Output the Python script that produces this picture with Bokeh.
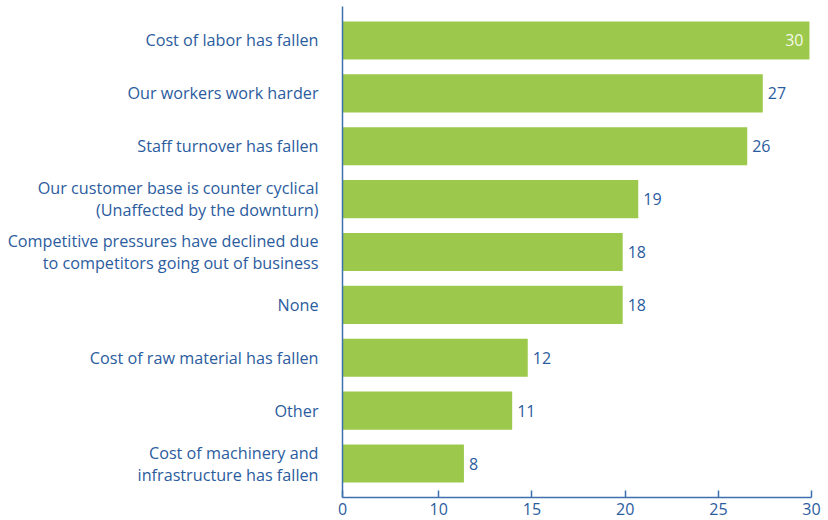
from bokeh.plotting import figure
from bokeh.models import Range1d, FixedTicker, ColumnDataSource
from bokeh.core.properties import value
from bokeh.embed import file_html
from bokeh.resources import INLINE

categories = [
    "Cost of labor has fallen",
    "Our workers work harder",
    "Staff turnover has fallen",
    "Our customer base is counter cyclical\n(Unaffected by the downturn)",
    "Competitive pressures have declined due\nto competitors going out of business",
    "None",
    "Cost of raw material has fallen",
    "Other",
    "Cost of machinery and\ninfrastructure has fallen",
]
values = [30, 27, 26, 19, 18, 18, 11.9, 10.9, 7.8]
value_labels = ["30", "27", "26", "19", "18", "18", "12", "11", "8"]
x_tick_labels = ["0", "10", "15", "20", "25", "30"]

FONT = "Open Sans"
BLUE = "#2b5c9e"
AXIS = "#3f6fad"
GREEN = "#9cc94b"

n = len(categories)
ypos = [n - 1 - i for i in range(n)]

x_end = 30.13
p = figure(width=828, height=520, output_backend="svg", toolbar_location=None,
           x_range=Range1d(0, x_end), y_range=Range1d(-0.643, n - 1 + 0.643),
           min_border_left=342, min_border_right=17, min_border_top=6, min_border_bottom=23)
p.outline_line_color = None
p.xgrid.visible = False
p.ygrid.visible = False
p.background_fill_color = "white"

src = ColumnDataSource(dict(y=ypos, v=values, lab=value_labels))
p.hbar(y="y", left=0, right="v", height=0.72, source=src, fill_color=GREEN, line_color=None)

big = [i for i in range(n) if values[i] >= 29]
small = [i for i in range(n) if values[i] < 29]
inside = ColumnDataSource(dict(y=[ypos[i] for i in big], v=[values[i] for i in big],
                               lab=[value_labels[i] for i in big]))
outside = ColumnDataSource(dict(y=[ypos[i] for i in small], v=[values[i] for i in small],
                                lab=[value_labels[i] for i in small]))
p.text(x="v", y="y", text="lab", source=outside, x_offset=5, text_align="left",
       text_baseline="middle", text_color=BLUE, text_font=value(FONT), text_font_size="16px")
p.text(x="v", y="y", text="lab", source=inside, x_offset=-6, text_align="right",
       text_baseline="middle", text_color="#f3f8ea", text_font=value(FONT), text_font_size="16px")

# y axis (categories)
p.yaxis.ticker = FixedTicker(ticks=ypos)
p.yaxis.major_label_overrides = {ypos[i]: categories[i] for i in range(n)}
p.yaxis.major_tick_line_color = None
p.yaxis.minor_tick_line_color = None
p.yaxis.axis_line_color = AXIS
p.yaxis.axis_line_width = 1.5
p.yaxis.major_label_standoff = 18
p.yaxis.major_label_text_color = BLUE
p.yaxis.major_label_text_font = FONT
p.yaxis.major_label_text_font_size = "16.2px"
p.yaxis.major_label_text_line_height = 1.0

# x axis
xt = [0, 6.18, 12.17, 18.16, 24.15, 30.13]
p.xaxis.ticker = FixedTicker(ticks=xt)
p.xaxis.major_label_overrides = {xt[i]: x_tick_labels[i] for i in range(len(xt))}
p.xaxis.minor_tick_line_color = None
p.xaxis.major_tick_in = 7
p.xaxis.major_tick_out = 0
p.xaxis.major_tick_line_color = AXIS
p.xaxis.major_tick_line_width = 1.5
p.xaxis.axis_line_color = AXIS
p.xaxis.axis_line_width = 1.5
p.xaxis.major_label_standoff = 5
p.xaxis.major_label_text_align = "right"
p.xaxis.major_label_text_color = BLUE
p.xaxis.major_label_text_font = FONT
p.xaxis.major_label_text_font_size = "16px"

open("out.html", "w").write(file_html(p, INLINE))
